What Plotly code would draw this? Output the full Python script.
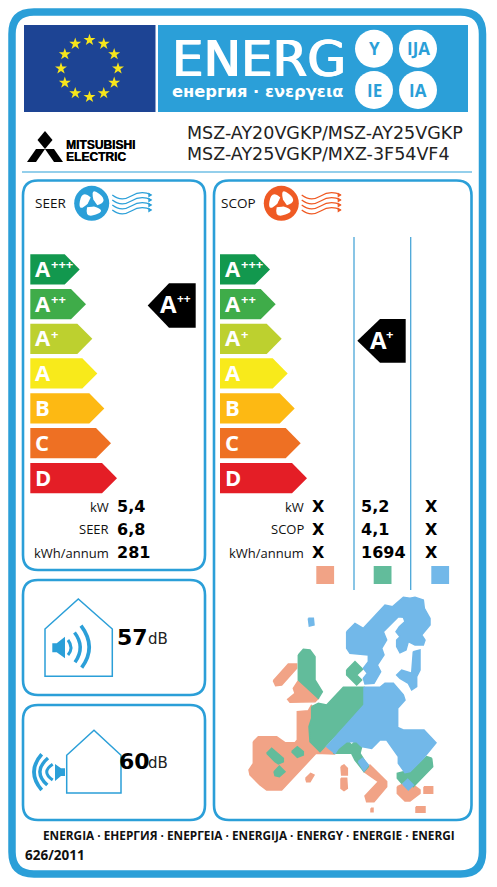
import math
import plotly.graph_objects as go

# rating classes
classes = ["A", "A", "A", "A", "B", "C", "D"]
class_plus = ["+++", "++", "+", "", "", "", ""]
class_colors = ["#12984e", "#3fac49", "#bdd02f", "#f8ea1b", "#fdb913", "#ee7023", "#e41e26"]
seer_lengths = [49.4, 55.7, 62, 67, 74, 80.7, 86.7]
scop_lengths = [50, 55.7, 61.7, 67.7, 74.7, 80.7, 87]
band_tops = [254.3, 289, 323.7, 358.3, 393.3, 428, 463]
BAND_H = 30.3

# table values
row_y = [506.7, 529.3, 552.7]
seer_labels = ["kW", "SEER", "kWh/annum"]
seer_values = ["5,4", "6,8", "281"]
scop_labels = ["kW", "SCOP", "kWh/annum"]
scop_cold = ["X", "X", "X"]
scop_avg = ["5,2", "4,1", "1694"]
scop_warm = ["X", "X", "X"]
zone_colors = ["#f1a386", "#62bc9b", "#72b8e9"]
zone_x = [316.3, 373.7, 431.3]

model_lines = ["MSZ-AY20VGKP/MSZ-AY25VGKP", "MSZ-AY25VGKP/MXZ-3F54VF4"]
footer = "ENERGIA · ЕНЕРГИЯ · ΕΝΕΡΓΕΙΑ · ENERGIJA · ENERGY · ENERGIE · ENERGI"

BLUE = "#2b9fd8"
ORANGE = "#ef5a24"

# map outlines
map_orange = [
    [(40,455),(55,440),(110,440),(135,458),(165,458),(172,450),(172,365),(205,362),(215,345),(215,385),(207,410),(210,455),(240,485),(260,470),(285,492),(240,492),(228,490),(125,600),(100,600),(80,600),(60,585),(30,555),(27,540),(40,520)],
    [(372,545),(390,525),(440,575),(440,590),(402,635),(380,635),(375,618),(415,575)],
    [(100,272),(145,222),(170,222),(170,235),(125,285),(107,287)],
    [(175,272),(235,325),(225,335),(150,337),(143,328),(165,310),(160,295)],
    [(303,530),(312,525),(322,535),(322,555),(305,555)],
    [(303,565),(320,565),(322,595),(312,602),(303,595)],
    [(197,565),(212,550),(222,555),(210,575),(200,575)],
    [(472,590),(490,582),(505,600),(520,585),(540,600),(540,610),(510,633),(495,633),(472,610)],
    [(552,590),(578,590),(578,610),(552,610)],
    [(528,650),(555,650),(555,667),(528,667)],
    [(393,655),(399,655),(399,665),(393,665)],
]
map_green = [
    [(215,350),(235,340),(260,345),(310,292),(372,292),(372,345),(240,485),(210,455),(207,410),(215,385)],
    [(175,195),(190,178),(210,180),(225,200),(225,270),(247,305),(235,325),(175,270)],
    [(320,240),(345,215),(368,238),(350,255),(365,270),(350,285),(320,255)],
    [(575,505),(578,530),(520,590),(503,570),(485,580),(472,565),(472,550),(490,545),(510,548),(560,500)],
    [(280,490),(300,460),(320,450),(335,465),(350,450),(365,470),(360,490),(385,530),(372,545),(345,510),(335,490)],
    [(80,490),(95,475),(130,505),(130,515),(115,522),(105,515)],
    [(155,485),(172,470),(190,485),(190,495),(172,502)],
    [(102,545),(118,528),(135,545),(118,560),(105,557)],
]
map_blue = [
    [(320,125),(345,100),(370,115),(435,45),(458,50),(490,22),(510,25),(525,22),(550,30),(553,55),(570,85),(570,105),(545,135),(555,150),(550,165),(525,165),(505,155),(498,180),(480,188),(470,170),(470,150),(480,140),(468,125),(478,110),(495,95),(490,82),(475,80),(430,125),(440,150),(425,175),(432,195),(412,225),(422,245),(402,280),(375,282),(370,265),(382,250),(370,235),(385,215),(385,195),(330,190),(320,175)],
    [(520,185),(540,180),(540,240),(530,260),(530,290),(515,300),(505,280),(480,265),(470,255),(485,240),(515,250)],
    [(372,292),(420,292),(435,280),(460,280),(490,315),(495,330),(473,355),(473,412),(490,420),(552,420),(588,458),(550,505),(510,545),(495,548),(475,520),(475,500),(440,450),(420,450),(395,475),(365,470),(350,455),(320,455),(295,475),(285,490),(260,470),(372,345)],
    [(355,515),(368,505),(385,525),(372,543)],
    [(488,582),(503,568),(520,585),(505,600)],
    [(205,85),(220,85),(222,105),(208,108)],
]


def round_rect(x0, y0, x1, y1, r):
    return (f"M{x0+r},{y0} L{x1-r},{y0} Q{x1},{y0} {x1},{y0+r} L{x1},{y1-r} Q{x1},{y1} {x1-r},{y1} "
            f"L{x0+r},{y1} Q{x0},{y1} {x0},{y1-r} L{x0},{y0+r} Q{x0},{y0} {x0+r},{y0} Z")


shapes = []


def add_path(path, line=None, width=0, fill=None):
    shapes.append(dict(type="path", path=path, layer="below", fillcolor=fill or "rgba(0,0,0,0)",
                       line=dict(color=line or "rgba(0,0,0,0)", width=width)))


def add_rect(x0, y0, x1, y1, fill):
    shapes.append(dict(type="rect", x0=x0, y0=y0, x1=x1, y1=y1, layer="below", fillcolor=fill, line=dict(width=0)))


def add_circle(cx, cy, r, fill):
    shapes.append(dict(type="circle", x0=cx-r, y0=cy-r, x1=cx+r, y1=cy+r, layer="below", fillcolor=fill, line=dict(width=0)))


def add_line(x0, y0, x1, y1, color, width):
    shapes.append(dict(type="line", x0=x0, y0=y0, x1=x1, y1=y1, layer="below", line=dict(color=color, width=width)))


annotations = []


def text(x, y, s, size, color="#111111", family="Open Sans", bold=False, anchor="left", shadow=None):
    font = dict(size=size, color=color, family=family)
    if shadow:
        font["shadow"] = shadow
    annotations.append(dict(x=x, y=y, text=f"<b>{s}</b>" if bold else s, showarrow=False, xanchor=anchor, yanchor="middle",
                            borderpad=0, borderwidth=0, font=font))


def fan(cx, cy, color):
    add_circle(cx, cy, 17.5, color)
    for a in (-40, 80, 200):
        p = []
        for r, d in ((4, -25), (17, -55), (17, 35), (6, 60)):
            t = math.radians(a + d)
            p.append((cx + r*math.cos(t), cy + r*math.sin(t)))
        add_path(f"M{p[0][0]},{p[0][1]} Q{p[1][0]},{p[1][1]} {(p[1][0]+p[2][0])/2},{(p[1][1]+p[2][1])/2} "
                 f"Q{p[2][0]},{p[2][1]} {p[3][0]},{p[3][1]} Z", fill="white")
    add_circle(cx, cy, 3, color)


def waves(x0, color):
    x1 = x0 + 39
    for y in (195, 200, 205, 210):
        add_path(f"M{x0},{y} Q{x0+9},{y+7} {x0+19},{y+1} Q{x0+29},{y-5} {x1},{y}", line=color, width=1.2)
        add_path(f"M{x1+1},{y} L{x1-3},{y-2.5} L{x1-3},{y+2.5} Z", fill=color)


fig = go.Figure()


def band_trace(x0, length, top, color):
    mid = top + BAND_H/2
    body = x0 + length - 15
    fig.add_trace(go.Scatter(x=[x0, body, x0+length, body, x0, x0], y=[top, top, mid, top+BAND_H, top+BAND_H, top],
                             mode="lines", fill="toself", fillcolor=color, line=dict(width=0), hoverinfo="skip"))


def pointer_trace(tip, body, end, top, bottom):
    mid = (top + bottom)/2
    fig.add_trace(go.Scatter(x=[tip, body, end, end, body, tip], y=[mid, top, top, bottom, bottom, mid],
                             mode="lines", fill="toself", fillcolor="black", line=dict(width=0), hoverinfo="skip"))


def map_trace(polys, color):
    xs, ys = [], []
    for poly in polys:
        xs += [240 + p[0]/3 for p in poly] + [240 + poly[0][0]/3, None]
        ys += [590 + p[1]/3 for p in poly] + [590 + poly[0][1]/3, None]
    fig.add_trace(go.Scatter(x=xs, y=ys, mode="lines", fill="toself", fillcolor=color, line=dict(width=1.5, color=color), hoverinfo="skip"))


# outer frame and header
add_path(round_rect(12, 12, 482.5, 874, 22), line=BLUE, width=7.5)
add_rect(24, 25, 155.5, 112, "#1d4494")
add_rect(158, 25, 468, 112, BLUE)
for cx, cy, s in ((374, 48.7, "Y"), (418, 48.7, "IJA"), (374, 90, "IE"), (418, 90, "IA")):
    add_circle(cx, cy, 19, "white")
    text(cx, cy, s, 17, color=BLUE, bold=True, anchor="center")
text(172, 58.5, "ENERG", 50, color="white", family="DejaVu Sans", shadow="0.8px 0 0 white, -0.8px 0 0 white")
text(172, 91, "енергия · ενεργεια", 16.3, color="white", family="DejaVu Sans", bold=True)

star_x = [89.5 + 28.5*math.cos(math.radians(a)) for a in range(0, 360, 30)]
star_y = [68.5 + 28.5*math.sin(math.radians(a)) for a in range(0, 360, 30)]
fig.add_trace(go.Scatter(x=star_x, y=star_y, mode="markers", marker=dict(symbol="star", size=9, color="#f6e51c"), hoverinfo="skip"))

# logo
for p in ("M45,131 L52.5,140 L45,149 L37.5,140 Z", "M45,149 L54,149 L63,162 L54,162 Z", "M45,149 L36,149 L27,162 L36,162 Z"):
    add_path(p, fill="black")
text(66, 145, "MITSUBISHI", 12, color="black", family="Liberation Sans", bold=True, shadow="0.3px 0 0 black")
text(66, 157, "ELECTRIC", 12, color="black", family="Liberation Sans", bold=True, shadow="0.3px 0 0 black")
for y, s in zip((132.5, 153.5), model_lines):
    text(187, y, s, 17.5, color="#222222", family="DejaVu Sans")
add_line(22, 172, 472, 172, BLUE, 1.2)

# panels
add_path(round_rect(23, 180.5, 205, 570, 15), line=BLUE, width=2.6)
add_path(round_rect(23, 580, 205, 695, 15), line=BLUE, width=2.6)
add_path(round_rect(23, 705, 205, 820, 15), line=BLUE, width=2.6)
add_path(round_rect(214, 180.5, 471.5, 820, 15), line=BLUE, width=2.6)

text(35, 203, "SEER", 13.5, family="Open Sans")
fan(91.7, 203.3, BLUE)
waves(112.3, BLUE)
text(221, 203, "SCOP", 13.5, family="Open Sans")
fan(281.3, 203.3, ORANGE)
waves(301.7, ORANGE)

for x_line in (354, 410.7):
    add_line(x_line, 237, x_line, 590, "#4aa6d8", 1.3)

# energy bands
for x0, lengths in ((30.3, seer_lengths), (220, scop_lengths)):
    for c, plus, col, ln, top in zip(classes, class_plus, class_colors, lengths, band_tops):
        band_trace(x0, ln, top, col)
        text(x0 + 5, top + BAND_H/2 - 1.5, c, 22, color="white", bold=True)
        if plus:
            text(x0 + 21, top + 10, plus, 13, color="white", bold=True)

pointer_trace(147.7, 169, 195.7, 283.3, 327.7)
text(160, 303.5, "A", 24, color="white", bold=True)
text(176.5, 298, "++", 12, color="white", bold=True)
pointer_trace(357.3, 380, 405.7, 319, 362.7)
text(369.5, 339, "A", 24, color="white", bold=True)
text(386, 334, "+", 13, color="white", bold=True)

# figures under the bands
for i, y in enumerate(row_y):
    text(109, y, seer_labels[i], 13, anchor="right")
    text(117.3, y, seer_values[i], 16, color="black", family="DejaVu Sans", bold=True)
    text(304.3, y, scop_labels[i], 13, anchor="right")
    text(318, y, scop_cold[i], 16, color="black", family="DejaVu Sans", bold=True, anchor="center")
    text(361, y, scop_avg[i], 16, color="black", family="DejaVu Sans", bold=True)
    text(431, y, scop_warm[i], 16, color="black", family="DejaVu Sans", bold=True, anchor="center")
for x, col in zip(zone_x, zone_colors):
    add_rect(x, 566, x + 17.8, 584, col)

# noise icons
add_path("M45,629 L78.3,599 L112.3,629 L112.3,676.3 L45,676.3 Z", line=BLUE, width=1.5)
add_path("M52.3,643.3 L56.7,643.3 L65,636.7 L65,658.3 L56.7,652.3 L52.3,652.3 Z", fill=BLUE)
add_path("M68,640 Q74,648 68,655", line=BLUE, width=3)
add_path("M74.5,632.5 Q85.7,647 75,662.3", line=BLUE, width=3.5)
add_path("M81,625.7 Q97,647 81.7,667.7", line=BLUE, width=3.7)
text(116.7, 637, "57", 22, color="black", family="DejaVu Sans", bold=True)
text(148, 639, "dB", 15, color="#222222", family="DejaVu Sans")

add_path("M66.7,755.3 L94,730.3 L121,755.3 L121,793 L66.7,793 Z", line=BLUE, width=1.5)
add_path("M55,764 L61,768.3 L65,768.3 L65,776 L61,776 L55,781 Z", fill=BLUE)
add_path("M52.7,764.3 Q40.7,772 52.7,780", line=BLUE, width=3)
add_path("M48,758 Q32.2,771.7 47.3,785", line=BLUE, width=3.5)
add_path("M41.7,754.3 Q26.3,771.7 41.7,790", line=BLUE, width=3.7)
text(119, 761, "60", 22, color="black", family="DejaVu Sans", bold=True)
text(148, 763, "dB", 15, color="#222222", family="DejaVu Sans")

# footer
text(248.5, 835, footer, 11.8, color="#111111", bold=True, anchor="center")
text(25, 855, "626/2011", 13.5, color="#111111", bold=True)

# map
map_trace(map_orange, zone_colors[0])
map_trace(map_green, zone_colors[1])
map_trace(map_blue, zone_colors[2])

fig.update_layout(width=497, height=887, margin=dict(l=0, r=0, t=0, b=0), showlegend=False,
                  paper_bgcolor="white", plot_bgcolor="white", shapes=shapes, annotations=annotations,
                  xaxis=dict(range=[0, 497], visible=False, fixedrange=True),
                  yaxis=dict(range=[887, 0], visible=False, fixedrange=True))
fig.write_html("out.html", config=dict(displayModeBar=False), post_script="document.body.style.margin='0';")
